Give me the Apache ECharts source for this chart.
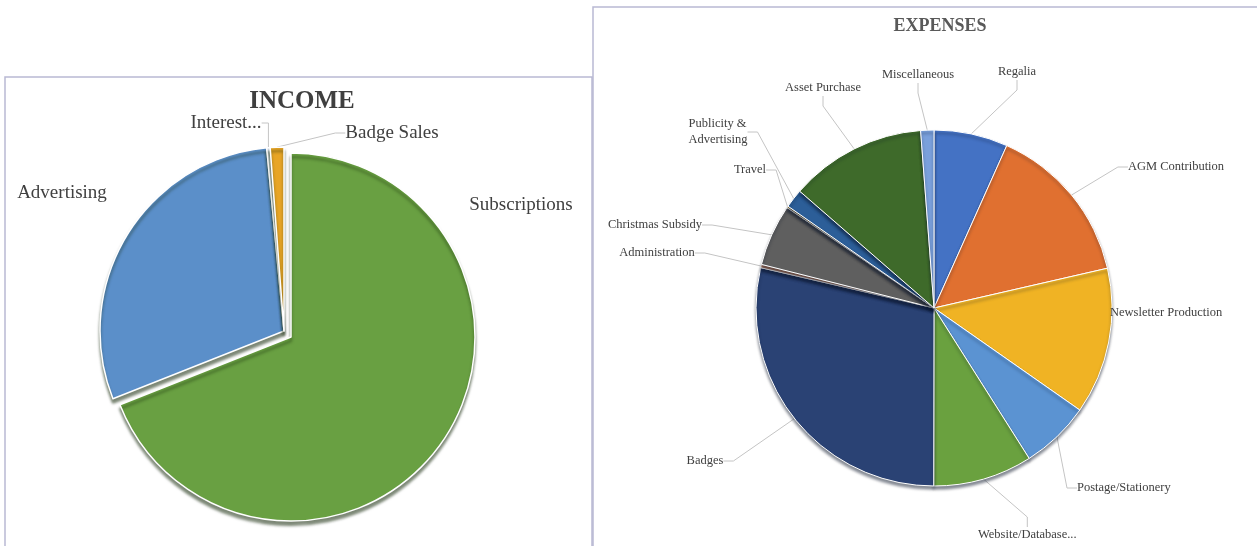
<!DOCTYPE html>
<html>
<head>
<meta charset="utf-8">
<script src="https://cdn.jsdelivr.net/npm/echarts@6/dist/echarts.min.js"></script>
<style>
html,body{margin:0;padding:0;background:#fff;}
#c{width:1257px;height:546px;}
</style>
</head>
<body>
<div id="c"></div>
<script>
// ---- data ----
const incomeCategories = ['Subscriptions', 'Advertising', 'Interest...', 'Badge Sales'];
const incomeValues = [69.0, 29.5, 0.3, 1.2];

const expenseCategories = ['Regalia', 'AGM Contribution', 'Newsletter Production', 'Postage/Stationery',
  'Website/Database...', 'Badges', 'Administration', 'Christmas Subsidy', 'Travel',
  'Publicity &\nAdvertising', 'Asset Purchase', 'Miscellaneous'];
const expenseValues = [6.7, 14.7, 13.3, 6.3, 9.0, 28.6, 0.3, 5.6, 0.15, 1.7, 12.4, 1.2];

// ---- styles ----
const incomeColors = ['#69a042', '#5b8fc9', '#dfe6ef', '#e8a526'];
const incomeExploded = [false, true, true, true];
const expenseColors = ['#4472c4', '#e07030', '#f0b324', '#5b93d2', '#6aa13f', '#2a4274',
  '#d89068', '#5f5f5f', '#a08030', '#2c5e98', '#3e6a2a', '#7aa0dc'];

// label anchor positions by category index: [x, y, align, showLine]
const incomeLabelPos = [
  [521, 205, 'center', false],
  [62, 193, 'center', false],
  [226, 123, 'center', true],
  [392, 133, 'center', true]
];
const expenseLabelPos = [
  [1017, 72, 'center'],
  [1176, 167, 'center'],
  [1110, 313, 'left'],
  [1077, 488, 'left'],
  [978, 535, 'left'],
  [705, 461, 'center'],
  [657, 253, 'center'],
  [655, 225, 'center'],
  [750, 170, 'center'],
  [718, 132, 'center'],
  [823, 88, 'center'],
  [918, 75, 'center']
];

const chart = echarts.init(document.getElementById('c'), null, {renderer: 'canvas'});

// two layers of the same income pie: the base slice and the exploded slices
function incomeLayer(explodedLayer) {
  return incomeCategories.map((n, i) => {
    const visible = incomeExploded[i] === explodedLayer;
    return {
      name: n, value: incomeValues[i],
      itemStyle: visible ? {color: incomeColors[i]} :
        {color: 'rgba(0,0,0,0)', borderColor: 'rgba(0,0,0,0)', shadowColor: 'rgba(0,0,0,0)'},
      label: {show: visible},
      labelLine: {show: visible && incomeLabelPos[i][3]}
    };
  });
}
const expenseData = expenseCategories.map((n, i) => ({
  name: n, value: expenseValues[i],
  itemStyle: {color: expenseColors[i]}
}));

function layoutFor(map) {
  return function (params) {
    const p = map[params.dataIndex];
    if (!p) return {};
    const w = params.labelRect.width, h = params.labelRect.height;
    let x = p[0];
    if (p[2] === 'center') x = p[0] - w / 2;
    return {x: x, y: p[1] - h / 2, align: 'left', verticalAlign: 'top'};
  };
}

const incomeCommon = {
  type: 'pie',
  radius: [0, 184],
  startAngle: 90,
  clockwise: true,
  silent: true,
  itemStyle: {borderColor: '#ffffff', borderWidth: 1.5,
    shadowColor: 'rgba(20,40,10,0.55)', shadowBlur: 3, shadowOffsetY: 4},
  label: {position: 'outside', fontFamily: 'Liberation Serif',
    fontSize: 19, color: '#404040', formatter: '{b}', overflow: 'none'},
  labelLine: {lineStyle: {color: '#c4c4c4', width: 1}, length: 10, length2: 10},
  labelLayout: layoutFor(incomeLabelPos)
};

chart.setOption({
  animation: false,
  title: [
    {text: 'INCOME', left: 297, top: 84, textAlign: 'center',
     textStyle: {fontFamily: 'Liberation Serif', fontWeight: 'bold', fontSize: 25, color: '#3f3f3f'}},
    {text: 'EXPENSES', left: 935, top: 12, textAlign: 'center',
     textStyle: {fontFamily: 'Liberation Serif', fontWeight: 'bold', fontSize: 18, color: '#595959'}}
  ],
  graphic: [
    {type: 'polyline', shape: {points: [[5, 560], [5, 77], [592, 77], [592, 560]]},
     style: {stroke: '#b9b9d3', lineWidth: 1.5, fill: null}},
    {type: 'polyline', shape: {points: [[593, 560], [593, 7], [1260, 7]]},
     style: {stroke: '#b9b9d3', lineWidth: 1.5, fill: null}}
  ],
  series: [
    Object.assign({}, incomeCommon, {center: [291, 337], data: incomeLayer(false), z: 2}),
    Object.assign({}, incomeCommon, {center: [284, 331], data: incomeLayer(true), z: 3}),
    {
      type: 'pie',
      center: [934, 308],
      radius: [0, 178],
      startAngle: 90,
      clockwise: true,
      silent: true,
      data: expenseData,
      itemStyle: {borderColor: '#ffffff', borderWidth: 1,
        shadowColor: 'rgba(10,20,40,0.5)', shadowBlur: 3, shadowOffsetY: 3},
      label: {show: true, position: 'outside', fontFamily: 'Liberation Serif',
        fontSize: 12.5, color: '#404040', formatter: '{b}', lineHeight: 16, overflow: 'none'},
      labelLine: {show: true, lineStyle: {color: '#c4c4c4', width: 1}, length: 10, length2: 10},
      labelLayout: layoutFor(expenseLabelPos)
    }
  ]
});
</script>
</body>
</html>
